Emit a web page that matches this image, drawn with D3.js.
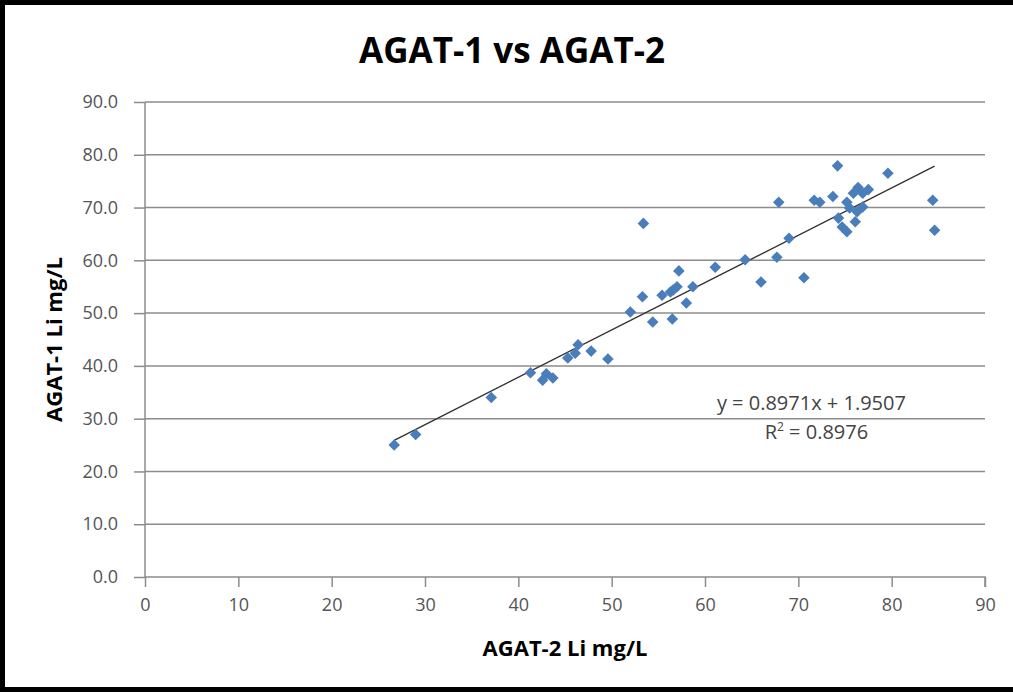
<!DOCTYPE html>
<html>
<head>
<meta charset="utf-8">
<script src="https://cdn.jsdelivr.net/npm/d3@7"></script>
<style>
  body { margin: 0; background: #fff; }
  svg { display: block; }
</style>
</head>
<body>
<div id="chart"></div>
<script>
// AGAT-2 (x) in AGAT-1 (y), Li mg/L
const agat2 = [26.7, 29.0, 37.1, 41.3, 42.6, 43.0, 43.7, 45.3, 46.1, 46.4, 47.8, 49.6,
  52.0, 53.3, 53.4, 54.4, 55.4, 56.3, 56.5, 56.6, 57.0, 57.2, 58.0, 58.7, 61.1, 64.3,
  66.0, 67.7, 67.9, 69.0, 70.6, 71.7, 72.3, 73.7, 74.2, 74.3, 74.7, 75.2, 75.2, 75.5,
  75.9, 76.1, 76.3, 76.4, 76.9, 76.9, 77.5, 79.6, 84.4, 84.6];
const agat1 = [25.0, 27.0, 34.0, 38.7, 37.3, 38.5, 37.7, 41.5, 42.4, 44.0, 42.8, 41.3,
  50.2, 53.1, 67.0, 48.3, 53.4, 54.0, 48.9, 54.4, 55.0, 58.0, 51.9, 55.0, 58.7, 60.1,
  55.9, 60.6, 71.0, 64.2, 56.7, 71.4, 71.0, 72.1, 77.9, 68.0, 66.3, 65.4, 71.0, 69.9,
  72.7, 67.3, 69.2, 73.8, 70.1, 72.7, 73.4, 76.5, 71.4, 65.7];

const xTicks = [0, 10, 20, 30, 40, 50, 60, 70, 80, 90];
const yTicks = [0, 10, 20, 30, 40, 50, 60, 70, 80, 90];

// trendline coefficients (as printed on the chart)
const slope = 0.8971, intercept = 1.9507, r2 = 0.8976;

const W = 1013, H = 692;
const margin = { top: 102, right: 28, bottom: 115, left: 145 };
const width = W - margin.left - margin.right;
const height = H - margin.top - margin.bottom;

const svgRoot = d3.select("#chart").append("svg")
  .attr("width", W).attr("height", H);

// okvir
svgRoot.append("rect")
  .attr("x", 2.5).attr("y", 2.5)
  .attr("width", W + 10).attr("height", H - 5)
  .attr("fill", "#fff").attr("stroke", "#000").attr("stroke-width", 5);

const svg = svgRoot.append("g")
  .attr("transform", `translate(${margin.left},${margin.top})`);

const x = d3.scaleLinear().domain([0, 90]).range([0, width]);
const y = d3.scaleLinear().domain([0, 90]).range([height, 0]);

const gridColor = "#8c8c8c";
const labelFont = "'Open Sans', 'DejaVu Sans', sans-serif";

// gridlines
svg.append("g")
  .selectAll("line")
  .data(yTicks.filter(d => d > 0))
  .join("line")
  .attr("x1", 0).attr("x2", width)
  .attr("y1", d => y(d)).attr("y2", d => y(d))
  .attr("stroke", gridColor).attr("stroke-width", 1.5);

// y os
const yAxis = svg.append("g")
  .call(d3.axisLeft(y).tickValues(yTicks).tickFormat(d3.format(".1f")).tickSize(11).tickPadding(16));
// x os
const xAxis = svg.append("g")
  .attr("transform", `translate(0,${height})`)
  .call(d3.axisBottom(x).tickValues(xTicks).tickSize(10).tickPadding(11));

[yAxis, xAxis].forEach(g => {
  g.select(".domain").attr("stroke", gridColor).attr("stroke-width", 1.5);
  g.selectAll(".tick line").attr("stroke", gridColor).attr("stroke-width", 1.5);
  g.selectAll(".tick text")
    .attr("fill", "#555")
    .style("font-family", labelFont)
    .style("font-size", "18px");
});
xAxis.select(".domain").attr("d", `M0,0H${width}V10`);
yAxis.select(".domain").attr("d", `M0,0V${height}`);

// trendline
const xs = d3.extent(agat2);
svg.append("line")
  .attr("x1", x(xs[0])).attr("y1", y(slope * xs[0] + intercept))
  .attr("x2", x(xs[1])).attr("y2", y(slope * xs[1] + intercept))
  .attr("stroke", "#333").attr("stroke-width", 1.4);

// tocke
const diamond = d3.symbol().type(d3.symbolDiamond2).size(85);
svg.append("g")
  .selectAll("path")
  .data(agat2.map((d, i) => [d, agat1[i]]))
  .join("path")
  .attr("d", diamond)
  .attr("transform", d => `translate(${x(d[0])},${y(d[1])})`)
  .attr("fill", "#4a7ebb");

// enacba
const eq = svg.append("g")
  .attr("transform", `translate(${x(71.4)},${y(31.6)})`)
  .style("font-family", labelFont)
  .style("font-size", "20px")
  .attr("fill", "#444")
  .attr("text-anchor", "middle");
eq.append("text").attr("x", 0).attr("y", 0)
  .text(`y = ${slope}x + ${intercept}`);
const r = eq.append("text").attr("x", 5).attr("y", 29);
r.append("tspan").text("R");
r.append("tspan").attr("dy", -8).style("font-size", "12px").text("2");
r.append("tspan").attr("dy", 8).text(` = ${r2}`);

// naslov
svgRoot.append("text")
  .attr("x", 512).attr("y", 63)
  .attr("text-anchor", "middle")
  .style("font-family", labelFont)
  .style("font-weight", "bold")
  .style("font-size", "35px")
  .text("AGAT-1 vs AGAT-2");

// naslovi osi
svgRoot.append("text")
  .attr("transform", `translate(62,${margin.top + height / 2}) rotate(-90)`)
  .attr("text-anchor", "middle")
  .style("font-family", labelFont)
  .style("font-weight", "bold")
  .style("font-size", "22px")
  .text("AGAT-1 Li mg/L");

svgRoot.append("text")
  .attr("x", 565).attr("y", 656)
  .attr("text-anchor", "middle")
  .style("font-family", labelFont)
  .style("font-weight", "bold")
  .style("font-size", "22px")
  .text("AGAT-2 Li mg/L");
</script>
</body>
</html>
